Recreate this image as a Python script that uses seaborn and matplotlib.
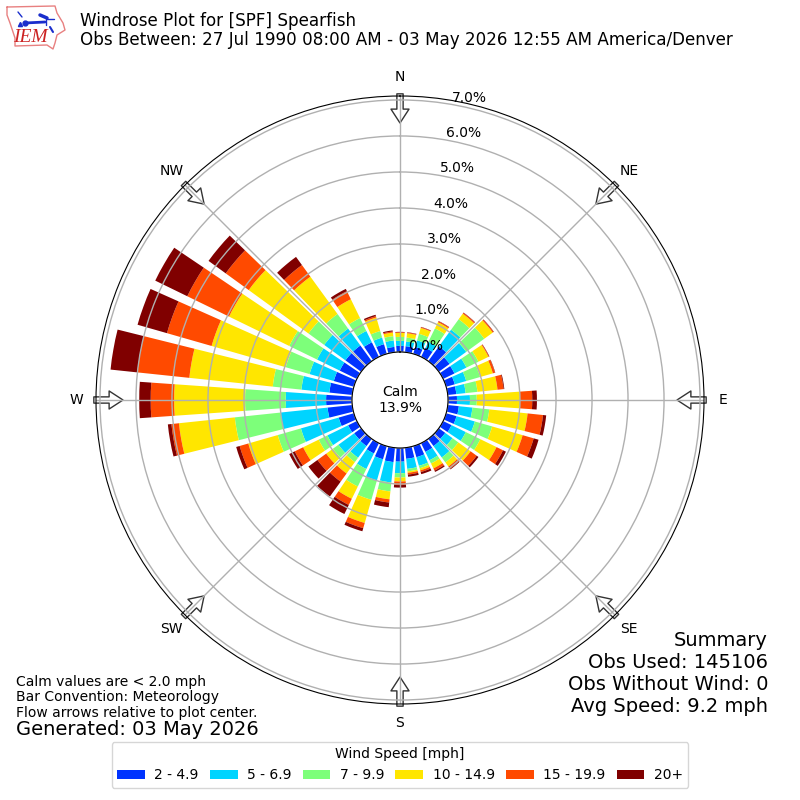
import numpy as np
import seaborn as sns
import matplotlib.pyplot as plt

# direction of each bar, degrees from north
directions = list(range(0, 360, 10))

# outer edge of each speed band, percent of obs (bands stack up)
edge_2_5 = [.17, .17, .20, .28, .51, .37, .35, .25, .24, .25, .31, .30, .26, .22, .25, .27, .32, .31,
            .38, .40, .38, .32, .25, .24, .27, .44, .69, .72, .64, .58, .53, .54, .54, .45, .28, .15]
edge_5_7 = [.31, .30, .39, .47, 1.08, .94, .72, .58, .50, .61, .69, .83, .70, .47, .64, .53, .57, .59,
            .70, .97, .99, .80, .65, .78, .91, 1.53, 2.00, 1.84, 1.42, 1.28, 1.23, 1.27, 1.12, .80, .47, .33]
edge_7_10 = [.42, .41, .58, .88, 1.44, 1.56, 1.09, .98, .83, .80, 1.16, 1.33, 1.15, .67, .81, .63, .64, .66,
             .82, 1.22, 1.55, 1.34, .80, .97, 1.18, 2.20, 3.28, 2.97, 2.22, 1.97, 2.09, 1.81, 1.62, 1.20, .66, .45]
edge_10_15 = [.53, .53, .75, 1.07, 1.63, 1.85, 1.40, 1.35, 1.39, 2.00, 2.23, 2.21, 1.65, 1.09, .95, .78, .70, .70,
              .93, 1.44, 2.22, 1.72, 1.19, 1.20, 1.66, 3.05, 4.84, 4.94, 4.55, 4.11, 3.95, 3.86, 2.90, 1.78, 1.05, .55]
edge_15_20 = [.55, .55, .77, 1.10, 1.66, 1.88, 1.42, 1.41, 1.56, 2.34, 2.66, 2.53, 1.85, 1.30, 1.03, .85, .75, .75,
              1.03, 1.53, 2.37, 1.91, 1.47, 1.50, 1.92, 3.30, 5.05, 5.59, 6.00, 5.40, 5.24, 4.65, 3.30, 2.03, 1.09, .58]
edge_20_up = [.56, .56, .78, 1.11, 1.67, 1.89, 1.43, 1.42, 1.58, 2.47, 2.75, 2.67, 1.94, 1.36, 1.05, .89, .81, .81,
              1.10, 1.66, 2.46, 2.19, 1.98, 1.81, 2.09, 3.40, 5.15, 5.91, 6.75, 6.25, 6.23, 5.24, 3.58, 2.10, 1.13, .61]

speed_labels = ["2 - 4.9", "5 - 6.9", "7 - 9.9", "10 - 14.9", "15 - 19.9", "20+"]
speed_colors = ["#0033ff", "#00d4ff", "#7dff7a", "#ffe600", "#ff4a00", "#800000"]

compass_angles = [0, 45, 90, 135, 180, 225, 270, 315]
compass_labels = ["N", "NE", "E", "SE", "S", "SW", "W", "NW"]
radial_ticks = [0, 1, 2, 3, 4, 5, 6, 7]

sns.set_theme(style="ticks", rc={
    "font.family": "DejaVu Sans",
    "font.size": 10,
    "xtick.labelsize": 10,
    "ytick.labelsize": 10,
    "legend.fontsize": 10,
    "legend.title_fontsize": 10,
    "axes.axisbelow": "line",
    "axes.grid": True,
    "grid.color": "#b0b0b0",
    "grid.linewidth": 1.0,
    "axes.edgecolor": "black",
    "axes.linewidth": 0.8,
    "text.color": "black",
    "xtick.color": "black",
    "ytick.color": "black",
})
palette = sns.color_palette(speed_colors)

fig = plt.figure(figsize=(8, 8), dpi=100)
ax = fig.add_axes([96 / 800, 96 / 800, 608 / 800, 608 / 800], projection="polar")
ax.set_theta_zero_location("N")
ax.set_theta_direction(-1)

# stacked bars, one ring per speed band
theta = np.deg2rad(directions)
bottom = np.zeros(len(directions))
all_edges = [edge_2_5, edge_5_7, edge_7_10, edge_10_15, edge_15_20, edge_20_up]
for edge, label, color in zip(all_edges, speed_labels, palette):
    edge = np.array(edge)
    ax.bar(theta, edge - bottom, width=np.deg2rad(8), bottom=bottom, color=color, label=label, linewidth=0)
    bottom = edge

ax.set_ylim(0, 7.11)
ax.set_rorigin(-1.333)
ax.set_thetagrids(compass_angles, compass_labels)
ax.tick_params(axis="x", pad=1)
ax.set_yticks(radial_ticks)
ax.set_yticklabels([f"{v:.1f}%" for v in radial_ticks])
ax.set_rlabel_position(10)

# flow arrows around the rim
for ang in compass_angles:
    ax.annotate(
        "",
        xy=(np.deg2rad(ang), 6.36),
        xytext=(np.deg2rad(ang), 7.17),
        annotation_clip=False,
        zorder=1,
        arrowprops=dict(facecolor="white", edgecolor="#333333", linewidth=1, width=4.5, headwidth=13, headlength=10, shrink=0),
    )

ax.text(0.5, 0.5, "Calm\n13.9%", transform=ax.transAxes, ha="center", va="center", fontsize=10)

fig.legend(
    *ax.get_legend_handles_labels(),
    loc="lower center",
    bbox_to_anchor=(0.5, 0.0065),
    ncol=6,
    title="Wind Speed [mph]",
    columnspacing=0.8,
    handletextpad=0.68,
)

fig.text(0.1, 0.9385, "Windrose Plot for [SPF] Spearfish\nObs Between: 27 Jul 1990 08:00 AM - 03 May 2026 12:55 AM America/Denver",
         fontsize=12.02, va="bottom", linespacing=1.05)
fig.text(0.02, 0.1, "Calm values are < 2.0 mph\nBar Convention: Meteorology\nFlow arrows relative to plot center.",
         fontsize=10, va="bottom", linespacing=1.15)
fig.text(0.02, 0.0885, "Generated: 03 May 2026", fontsize=14, va="center")
fig.text(0.96, 0.1055, "Summary\nObs Used: 145106\nObs Without Wind: 0\nAvg Speed: 9.2 mph",
         fontsize=14, ha="right", va="bottom", linespacing=1.2)

# IEM logo, drawn in a small overlay
logo = fig.add_axes([0, 0.93, 0.09, 0.07])
logo.set_xlim(0, 72)
logo.set_ylim(56, 0)
logo.axis("off")
logo.plot([7, 55, 57, 63, 65, 57, 55, 53, 47, 15, 15, 10, 7, 7],
          [7, 6, 13, 23, 30, 35, 43, 49, 45, 46, 38, 23, 15, 7], color="#e88080", lw=1)
logo.plot([25, 45], [23, 22], color="#1a2ecc", lw=2)
logo.plot([25], [23], "o", color="#1a2ecc", ms=3.5)
logo.plot([40, 47], [15, 18], color="#1a2ecc", lw=2.5)
logo.plot([46, 46], [18, 25], color="#1a2ecc", lw=1)
logo.plot([47, 54], [19, 19], color="#1a2ecc", lw=1)
logo.plot([50, 53], [27, 32], color="#1a2ecc", lw=1.5)
logo.plot([18, 22], [12, 17], color="#1a2ecc", lw=1)
logo.plot([20], [24], "^", color="#1a2ecc", ms=3)
logo.text(30, 38, "IEM", color="#cc2222", family="Liberation Serif", style="italic", fontsize=14, ha="center", va="center")

fig.savefig("out.png", dpi=100)
